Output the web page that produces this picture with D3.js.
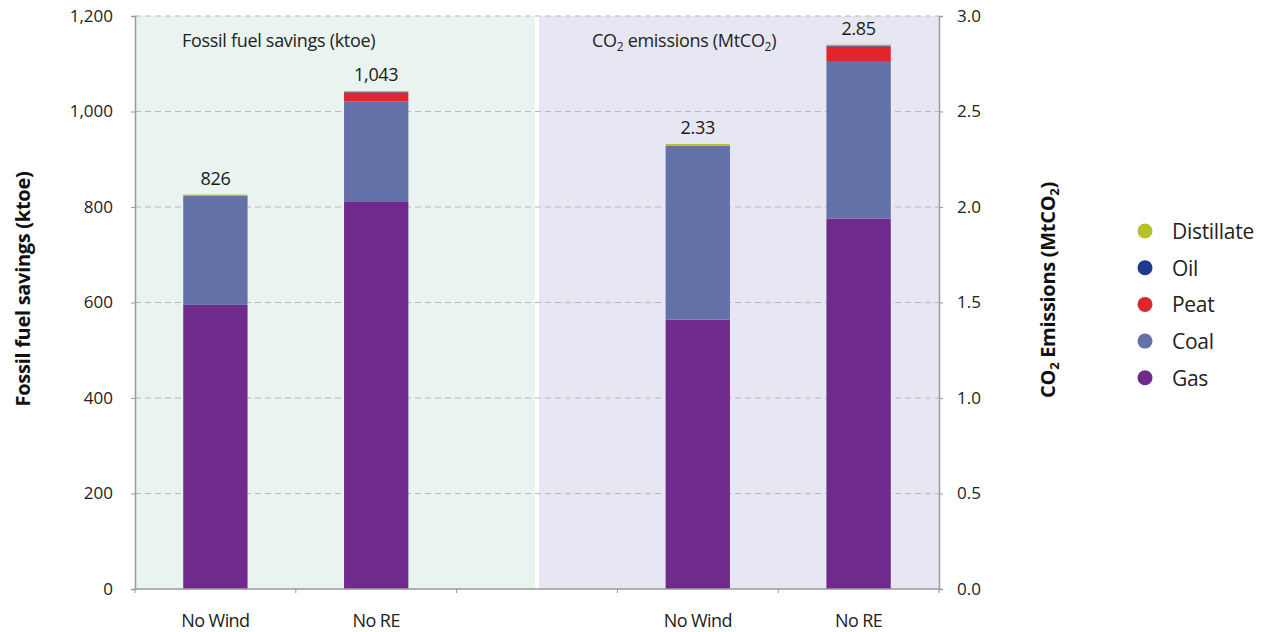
<!DOCTYPE html>
<html>
<head>
<meta charset="utf-8">
<script src="https://cdn.jsdelivr.net/npm/d3@7/dist/d3.min.js"></script>
<style>
  html, body { margin: 0; padding: 0; background: #fff; }
  svg { display: block; font-family: "Open Sans", "Noto Sans", sans-serif; }
</style>
</head>
<body>
<svg id="chart" width="1270" height="632"></svg>
<script>
// Scenario categories along the x axis (blank slot separates the two panels)
const categories = ["No Wind", "No RE", "", "No Wind", "No RE"];
const fuels = ["Gas", "Coal", "Peat", "Oil", "Distillate"];
const fuelColors = ["#6e2a8d", "#6470a8", "#e2252b", "#1e3a8f", "#b6c22b"];

// Fossil fuel savings (ktoe), per scenario [No Wind, No RE]
const gasKtoe = [595, 812];
const coalKtoe = [228, 209];
const peatKtoe = [0, 19];
const oilKtoe = [0, 1];
const distillateKtoe = [3, 2];

// CO2 emissions (MtCO2), per scenario [No Wind, No RE]
const gasCO2 = [1.41, 1.94];
const coalCO2 = [0.91, 0.82];
const peatCO2 = [0, 0.08];
const oilCO2 = [0, 0.005];
const distillateCO2 = [0.01, 0.005];

const leftTicks = [0, 200, 400, 600, 800, 1000, 1200];
const rightTicks = [0, 0.5, 1.0, 1.5, 2.0, 2.5, 3.0];

const svg = d3.select("#chart");
const plot = { left: 135, right: 939, top: 16, bottom: 589 };

const x = d3.scalePoint().domain(d3.range(categories.length))
  .range([plot.left, plot.right]).padding(0.5);
const step = x.step();
const barW = step * 0.4;
const yL = d3.scaleLinear().domain([0, 1200]).range([plot.bottom, plot.top]);
const yR = d3.scaleLinear().domain([0, 3]).range([plot.bottom, plot.top]);

// Panel backgrounds
const mid = x(2);
svg.append("rect").attr("x", plot.left).attr("y", plot.top)
  .attr("width", mid - 2 - plot.left).attr("height", plot.bottom - plot.top)
  .attr("fill", "#e9f3f0");
svg.append("rect").attr("x", mid + 2).attr("y", plot.top)
  .attr("width", plot.right - mid - 2).attr("height", plot.bottom - plot.top)
  .attr("fill", "#e7e7f3");

// Dashed gridlines
svg.append("g").selectAll("line").data(leftTicks.slice(1)).join("line")
  .attr("x1", plot.left).attr("x2", plot.right)
  .attr("y1", d => yL(d)).attr("y2", d => yL(d))
  .attr("stroke", "#b9b9b9").attr("stroke-width", 1).attr("stroke-dasharray", "6,4");

// Stacked bars
function buildRows(cols, idxs) {
  return idxs.map((ci, i) => {
    const row = { cat: ci };
    fuels.forEach((f, k) => row[f] = cols[k][i]);
    return row;
  });
}
const stack = d3.stack().keys(fuels);
const panels = [
  { rows: buildRows([gasKtoe, coalKtoe, peatKtoe, oilKtoe, distillateKtoe], [0, 1]), y: yL, fmt: d3.format(",.0f") },
  { rows: buildRows([gasCO2, coalCO2, peatCO2, oilCO2, distillateCO2], [3, 4]), y: yR, fmt: d3.format(".2f") }
];

panels.forEach(p => {
  const layers = stack(p.rows);
  svg.append("g").selectAll("g").data(layers).join("g")
    .attr("fill", (d, i) => fuelColors[i])
    .selectAll("rect").data(d => d).join("rect")
      .attr("x", d => x(d.data.cat) - barW / 2)
      .attr("width", barW)
      .attr("y", d => p.y(d[1]))
      .attr("height", d => p.y(d[0]) - p.y(d[1]));
  // Totals above bars
  svg.append("g").selectAll("text").data(p.rows).join("text")
    .attr("x", d => x(d.cat))
    .attr("y", d => p.y(d3.sum(fuels, f => d[f])) - 10)
    .attr("text-anchor", "middle").attr("font-size", 18).attr("fill", "#1a1a1a")
    .attr("letter-spacing", -0.3)
    .text(d => p.fmt(d3.sum(fuels, f => d[f])));
});

// Left axis
const axL = svg.append("g").attr("transform", `translate(${plot.left},0)`)
  .call(d3.axisLeft(yL).tickValues(leftTicks).tickFormat(d3.format(",")).tickSize(4).tickPadding(18));
// Right axis
const axR = svg.append("g").attr("transform", `translate(${plot.right},0)`)
  .call(d3.axisRight(yR).tickValues(rightTicks).tickFormat(d3.format(".1f")).tickSize(4).tickPadding(14));
[axL, axR].forEach(a => {
  a.select(".domain").attr("stroke", "#9a9a9a").attr("stroke-width", 1.5);
  a.selectAll(".tick line").attr("stroke", "#9a9a9a");
  a.selectAll(".tick text").attr("font-size", 17).attr("fill", "#222")
    .attr("font-family", "'Open Sans', sans-serif");
});

// Bottom axis with ticks at band boundaries
svg.append("line").attr("x1", plot.left).attr("x2", plot.right)
  .attr("y1", plot.bottom).attr("y2", plot.bottom)
  .attr("stroke", "#9a9a9a").attr("stroke-width", 1.5);
svg.append("g").selectAll("line").data(d3.range(categories.length + 1)).join("line")
  .attr("x1", i => plot.left + i * step).attr("x2", i => plot.left + i * step)
  .attr("y1", plot.bottom).attr("y2", plot.bottom + 4)
  .attr("stroke", "#9a9a9a");
svg.append("g").selectAll("text").data(categories.map((c, i) => ({ c, i })).filter(d => d.c)).join("text")
  .attr("x", d => x(d.i)).attr("y", 627)
  .attr("text-anchor", "middle").attr("font-size", 18).attr("fill", "#222")
  .attr("letter-spacing", -0.6)
  .text(d => d.c);

// Panel titles
svg.append("text").attr("x", 182).attr("y", 47).attr("font-size", 18).attr("fill", "#222")
  .attr("letter-spacing", -0.3)
  .text("Fossil fuel savings (ktoe)");
const t2 = svg.append("text").attr("x", 592).attr("y", 47).attr("font-size", 18).attr("fill", "#222")
  .attr("letter-spacing", -0.3);
t2.append("tspan").text("CO");
t2.append("tspan").attr("font-size", 12).attr("dy", 4).text("2");
t2.append("tspan").attr("dy", -4).text(" emissions (MtCO");
t2.append("tspan").attr("font-size", 12).attr("dy", 4).text("2");
t2.append("tspan").attr("dy", -4).text(")");

// Axis titles
svg.append("text").attr("transform", "translate(30,289) rotate(-90)")
  .attr("text-anchor", "middle").attr("font-size", 20).attr("font-weight", "bold").attr("fill", "#111")
  .attr("letter-spacing", -0.3)
  .text("Fossil  fuel savings (ktoe)");
const t3 = svg.append("text").attr("transform", "translate(1055,290) rotate(-90)")
  .attr("text-anchor", "middle").attr("font-size", 20).attr("font-weight", "bold").attr("fill", "#111")
  .attr("letter-spacing", -0.3);
t3.append("tspan").text("CO");
t3.append("tspan").attr("font-size", 13).attr("dy", 4).text("2");
t3.append("tspan").attr("dy", -4).text(" Emissions (MtCO");
t3.append("tspan").attr("font-size", 13).attr("dy", 4).text("2");
t3.append("tspan").attr("dy", -4).text(")");

// Legend
const legendItems = fuels.map((f, i) => ({ f, c: fuelColors[i] })).reverse();
const lg = svg.append("g").selectAll("g").data(legendItems).join("g")
  .attr("transform", (d, i) => `translate(1145,${231 + i * 36.7})`);
lg.append("circle").attr("r", 7.5).attr("fill", d => d.c);
lg.append("text").attr("x", 27).attr("y", 8).attr("font-size", 21).attr("fill", "#222")
  .attr("letter-spacing", -0.3)
  .text(d => d.f);
</script>
</body>
</html>
